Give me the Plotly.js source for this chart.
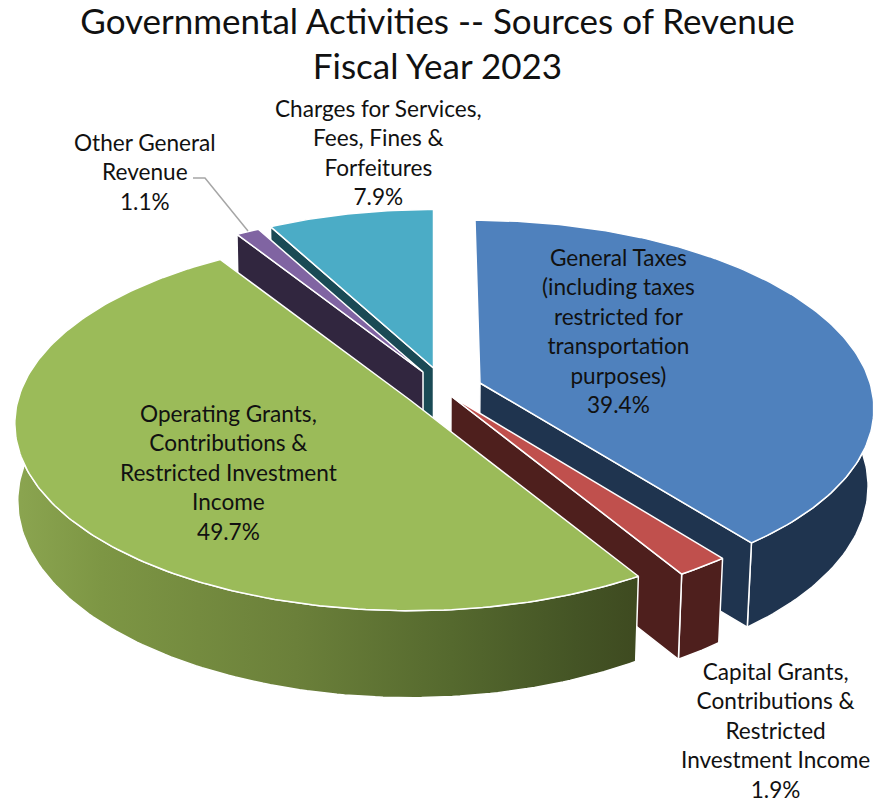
<!DOCTYPE html>
<html>
<head>
<meta charset="utf-8">
<script src="https://cdn.plot.ly/plotly-3.0.1.min.js"></script>
<style>html,body{margin:0;padding:0;background:#fff}#chart{width:875px;height:803px}</style>
</head>
<body>
<div id="chart"></div>
<script>
// ---- chart data ----
var categories = [
  "General Taxes<br>(including taxes<br>restricted for<br>transportation<br>purposes)",
  "Capital Grants,<br>Contributions &<br>Restricted<br>Investment Income",
  "Operating Grants,<br>Contributions &<br>Restricted Investment<br>Income",
  "Other General<br>Revenue",
  "Charges for Services,<br>Fees, Fines &<br>Forfeitures"
];
var shares = [39.4, 1.9, 49.7, 1.1, 7.9];
var titleLines = ["Governmental Activities -- Sources of Revenue", "Fiscal Year 2023"];

// ---- styles ----
var topColors  = ["#4f81bd", "#c0504d", "#9bbb59", "#8064a2", "#4bacc6"];
var wallColors = ["#1f344f", "#4e1f1d", "#4a5c28", "#31263f", "#1a4a55"];
var greenWallScale = [[0,"#8ba550"],[0.14,"#7d9644"],[0.45,"#6b803a"],[0.7,"#55692e"],[0.9,"#445425"],[1,"#3e4a20"]];

// ---- exploded-pie geometry (pixel space of the hidden axes) ----
var apexX = [480, 451, 410, 423, 433.5];
var apexY = [383, 396, 400, 372, 368];
var sliceScale = [0.985, 1, 0.99, 0.97, 0.96];
var sliceShear = [5, 0, 0, 0, 0];
var rimFromAngle = [85, null, null, null, null];   // where the visible rim starts (null: slice start)
var rimToAngle = [null, null, 278, null, null];    // where the visible rim ends (null: slice end)
var cutAtEnd = [true, true, null, false, false];   // which radial edge shows a cut face
var labelX = [618, 775, 228, 145, 378];
var labelY = [331, 730.5, 472, 172, 152];
var RX = 396, RY = 186, PERSP = 0.126, DEPTH = 76, CX = 430, SHRINK_RIGHT = 0.987, SHRINK_LEFT = 0.993;

function project(deg, i, low) {
  var t = deg * Math.PI / 180, X = Math.sin(t), Y = -Math.cos(t), s = 1 / (1 - PERSP * Y);
  var x = apexX[i] + RX * sliceScale[i] * X * s + sliceShear[i] * Y;
  var y = apexY[i] + RY * sliceScale[i] * Y * s;
  if (low) { x = CX + (x - CX) * (x < CX ? SHRINK_LEFT : SHRINK_RIGHT); y += DEPTH * s; }
  return [x, y];
}
function arc(a, b, i, low) {
  var pts = [], n = Math.max(2, Math.ceil(Math.abs(b - a)));
  for (var j = 0; j <= n; j++) pts.push(project(a + (b - a) * j / n, i, low));
  return pts;
}
function poly(pts, name, color, grad) {
  var tr = {
    type: "scatter", mode: "lines", name: name, hoverinfo: "skip", showlegend: false,
    x: pts.map(function (p) { return p[0]; }), y: pts.map(function (p) { return p[1]; }),
    fill: "toself", fillcolor: color, line: { color: "#ffffff", width: 1.5 }
  };
  if (grad) tr.fillgradient = { type: "horizontal", colorscale: grad };
  return tr;
}

// slice start/end angles, clockwise from 12 o'clock
var total = shares.reduce(function (a, b) { return a + b; }, 0), starts = [], ends = [], acc = 0;
shares.forEach(function (v) { starts.push(acc / total * 360); acc += v; ends.push(acc / total * 360); });

var traces = [];
[4, 3, 0, 1, 2].forEach(function (i) {
  var a = starts[i], b = ends[i], nm = categories[i].replace(/<br>/g, " ");
  var apexTop = [apexX[i], apexY[i]];
  var apexLow = [CX + (apexX[i] - CX) * SHRINK_RIGHT, apexY[i] + DEPTH * 1.12];
  var ra = rimFromAngle[i] === null ? a : rimFromAngle[i];
  var rb = rimToAngle[i] === null ? b : rimToAngle[i];
  // outer rim
  var rim = arc(ra, rb, i, false).concat(arc(rb, ra, i, true));
  rim.push(rim[0]);
  traces.push(poly(rim, nm + " rim", wallColors[i], i === 2 ? greenWallScale : null));
  // cut face along one radial edge
  if (cutAtEnd[i] !== null) {
    var edge = cutAtEnd[i] ? b : a;
    traces.push(poly([apexTop, project(edge, i, false), project(edge, i, true), apexLow, apexTop], nm + " cut face", wallColors[i], null));
  }
  // top face
  traces.push(poly([apexTop].concat(arc(a, b, i, false)).concat([apexTop]), nm, topColors[i], null));
});

var annotations = categories.map(function (c, i) {
  return {
    x: labelX[i], y: labelY[i], xref: "x", yref: "y", text: c + "<br>" + shares[i].toFixed(1) + "%",
    showarrow: false, xanchor: "center", yanchor: "middle", align: "center",
    font: { family: "Lato, sans-serif", size: 22.6, color: "#111111" }
  };
});

var layout = {
  width: 875, height: 803, margin: { l: 0, r: 0, t: 0, b: 0 },
  paper_bgcolor: "#ffffff", plot_bgcolor: "#ffffff", showlegend: false,
  title: { text: titleLines.join("<br>"), x: 0.5, xanchor: "center", y: 0.958, yanchor: "top",
           font: { family: "Lato, sans-serif", size: 35, color: "#111111" } },
  xaxis: { range: [0, 875], visible: false, fixedrange: true },
  yaxis: { range: [803, 0], visible: false, fixedrange: true },
  annotations: annotations,
  shapes: [{ type: "path", xref: "x", yref: "y", path: "M193,178 L205,178 L248,231", line: { color: "#a6a6a6", width: 1.5 } }]
};
Plotly.newPlot("chart", traces, layout, { displayModeBar: false, staticPlot: true });
</script>
</body>
</html>
